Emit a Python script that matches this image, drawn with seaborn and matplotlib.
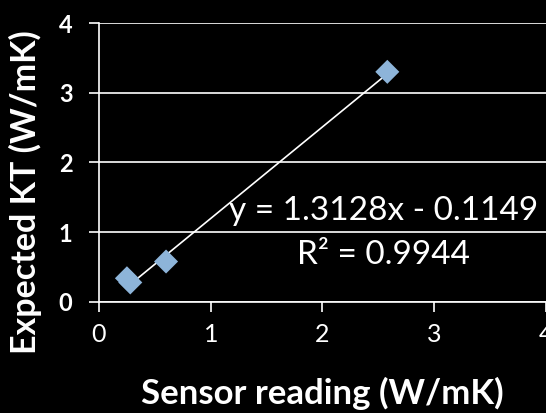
import numpy as np
import pandas as pd
import seaborn as sns
import matplotlib.pyplot as plt

# readings taken off the reference chart
sensor = [0.25, 0.28, 0.60, 2.58]
expected = [0.34, 0.28, 0.58, 3.30]
slope, intercept = 1.3128, -0.1149
r2 = 0.9944

df = pd.DataFrame({'sensor': sensor, 'expected': expected})

sns.set_theme(style='dark')
plt.rcParams['font.family'] = ['Lato', 'DejaVu Sans']

fig = plt.figure(figsize=(5.46, 4.13), dpi=100, facecolor='black')
ax = fig.add_axes([0.1813, 0.2688, 0.8187, 0.6755])
ax.set_facecolor('black')

# trendline over the data range
xs = np.array([min(sensor), max(sensor)])
sns.lineplot(x=xs, y=slope * xs + intercept, ax=ax, color='white', lw=1.2, zorder=3)
sns.scatterplot(data=df, x='sensor', y='expected', ax=ax, marker='D', s=150,
                color='#8db4d9', edgecolor='none', zorder=4)

ticks = [0, 1, 2, 3, 4]
ax.set_xlim(0, 4)
ax.set_ylim(0, 4)
ax.set_xticks(ticks)
ax.set_yticks(ticks, labels=[str(t) for t in ticks], fontweight='bold')
ax.grid(axis='y', color='white', lw=1.2)
ax.grid(axis='x', visible=False)
for side in ['top', 'right']:
    ax.spines[side].set_visible(False)
for side in ['left', 'bottom']:
    ax.spines[side].set_color('white')
    ax.spines[side].set_linewidth(1.2)

ax.tick_params(axis='both', which='major', colors='white', direction='out',
               length=7, width=1.2, left=True, bottom=True)
ax.tick_params(axis='y', which='major', labelsize=17, pad=12)
ax.tick_params(axis='x', which='major', labelsize=18, pad=8)

ax.set_xlabel('Sensor reading (W/mK)', color='white', fontsize=25, fontweight='bold')
ax.set_ylabel('Expected KT (W/mK)', color='white', fontsize=24.5, fontweight='bold')
ax.xaxis.set_label_coords(0.5, -0.27)
ax.yaxis.set_label_coords(-0.128, 0.394)

ax.text(2.55, 1.31, f'y = {slope}x - {abs(intercept)}', color='white',
        fontsize=24, ha='center', va='center', zorder=5)
ax.text(2.55, 0.67, f'R² = {r2}', color='white',
        fontsize=24, ha='center', va='center', zorder=5)

fig.savefig('out.png', dpi=100, facecolor='black')
